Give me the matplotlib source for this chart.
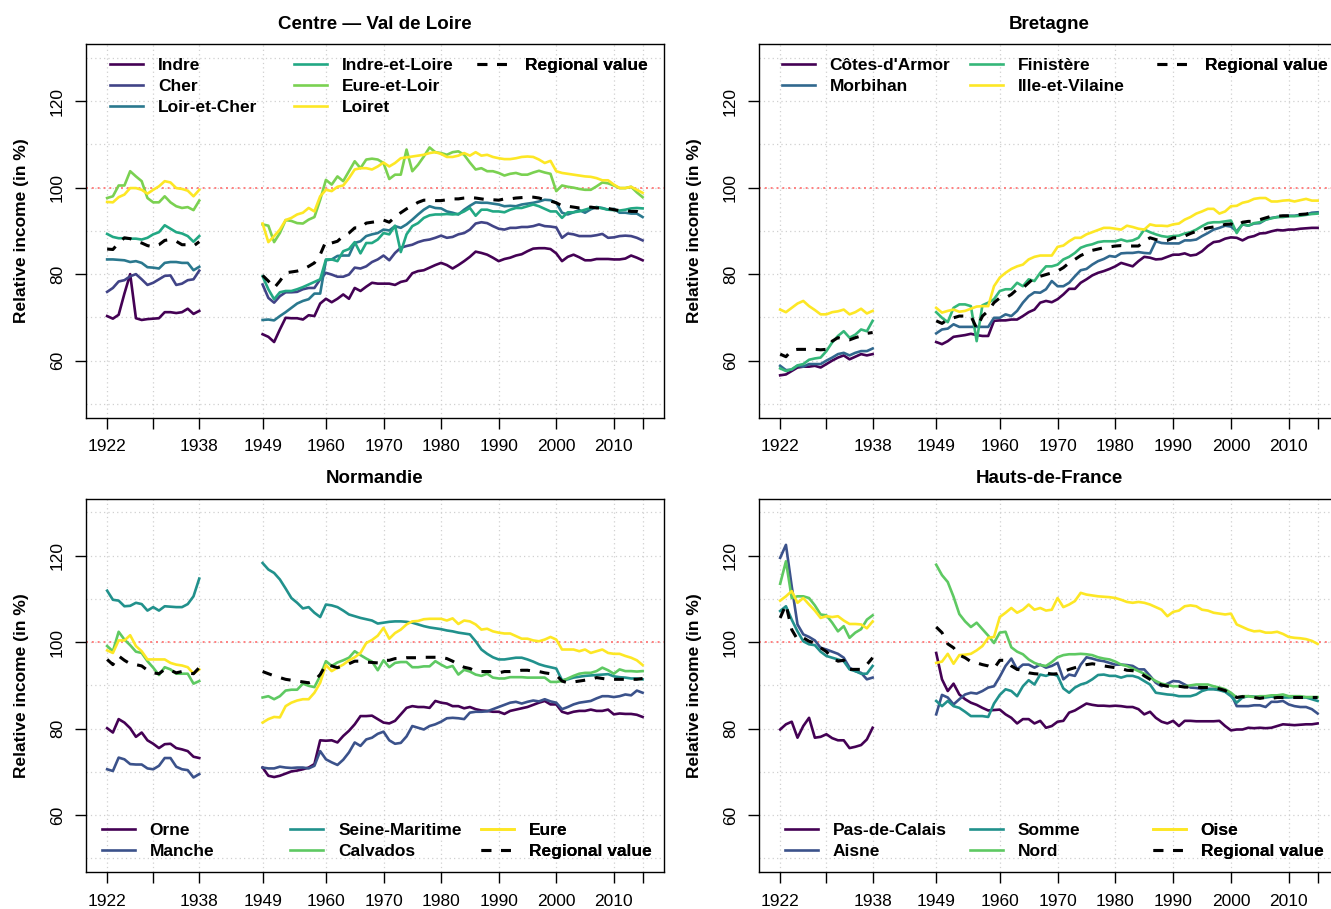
import numpy as np
import matplotlib
matplotlib.use('Agg')
import matplotlib.pyplot as plt

plt.rcParams['font.family'] = ['Liberation Sans', 'DejaVu Sans']

years_pre = list(range(1922, 1939))
years_post = list(range(1949, 2016))

# ---- Centre - Val de Loire ----
indre_pre = [70.3, 69.7, 70.6, 75.5, 80.0, 69.8, 69.4, 69.6, 69.7, 69.8, 71.2, 71.2, 71.0, 71.2, 72.0, 70.8, 71.5]
indre_post = [66.1, 65.5, 64.3, 67.2, 69.9, 69.8, 69.8, 69.5, 70.5, 70.3,
              73.2, 74.3, 73.5, 74.3, 75.3, 74.3, 76.8, 76.1, 77.1, 78.0,
              77.8, 77.8, 77.8, 77.5, 78.2, 78.5, 80.2, 80.7, 80.9, 81.5,
              82.1, 82.6, 82.1, 81.3, 82.1, 83.0, 84.0, 85.2, 84.9, 84.5,
              83.8, 83.0, 83.5, 83.8, 84.3, 84.6, 85.3, 85.9, 86.0, 86.0,
              85.8, 84.8, 83.0, 84.0, 84.5, 83.9, 83.2, 83.2, 83.5, 83.5,
              83.5, 83.4, 83.4, 83.6, 84.3, 83.8, 83.2]
cher_pre = [75.9, 76.8, 78.3, 78.6, 79.5, 80.0, 78.8, 77.5, 78.0, 78.8, 79.6, 79.7, 77.5, 77.8, 78.6, 78.8, 80.8]
cher_post = [77.6, 74.5, 73.4, 74.9, 75.8, 75.8, 75.9, 76.5, 76.8, 76.8,
             78.8, 80.3, 79.9, 79.4, 79.4, 79.9, 81.5, 81.3, 81.8, 82.8,
             83.4, 84.3, 83.2, 84.9, 86.1, 86.5, 86.8, 87.4, 87.8, 88.0,
             88.4, 88.9, 88.4, 88.6, 89.2, 89.5, 90.3, 91.7, 92.0, 91.8,
             91.1, 90.5, 90.3, 90.7, 90.7, 90.9, 90.9, 91.1, 91.5, 91.1,
             91.0, 90.8, 88.4, 89.4, 89.2, 88.8, 88.8, 88.8, 89.0, 89.3,
             88.4, 88.5, 88.8, 88.9, 88.8, 88.4, 87.8]
loir_pre = [83.4, 83.4, 83.3, 83.2, 82.8, 83.0, 82.6, 81.6, 81.5, 81.3, 82.6, 82.8, 82.8, 82.6, 82.6, 80.9, 81.7]
loir_post = [69.4, 69.5, 69.3, 70.3, 71.2, 72.2, 73.2, 73.8, 74.2, 75.5,
             75.5, 83.2, 83.4, 84.2, 84.3, 84.3, 87.2, 87.6, 88.8, 89.2,
             89.5, 90.3, 90.1, 91.1, 90.7, 91.5, 92.6, 93.8, 94.9, 95.7,
             95.3, 95.2, 94.5, 94.2, 93.8, 94.9, 95.8, 96.6, 96.5, 96.5,
             96.3, 96.1, 95.7, 95.8, 95.7, 96.1, 96.3, 96.5, 96.8, 97.2,
             97.1, 96.5, 94.2, 93.8, 94.3, 94.8, 94.2, 95.0, 95.5, 95.3,
             94.9, 95.1, 94.2, 94.2, 94.0, 94.0, 93.2]
iel_pre = [89.3, 88.6, 88.3, 88.3, 88.2, 88.2, 88.0, 88.4, 89.2, 89.7, 91.3, 90.5, 89.7, 89.4, 88.8, 87.5, 88.8]
iel_post = [79.5, 76.5, 74.2, 75.8, 76.1, 76.1, 76.5, 77.0, 77.6, 78.2,
            78.8, 83.4, 83.4, 83.0, 85.3, 85.8, 87.4, 84.8, 87.2, 87.2,
            88.0, 89.5, 89.2, 91.2, 85.1, 89.2, 91.1, 91.8, 93.0, 93.6,
            93.8, 93.8, 93.9, 93.8, 93.9, 94.5, 95.3, 93.5, 94.9, 94.9,
            94.5, 94.5, 94.3, 94.9, 95.3, 95.3, 95.7, 96.1, 95.7, 95.1,
            94.5, 94.5, 93.0, 94.3, 94.3, 94.5, 94.9, 95.3, 95.5, 95.2,
            94.9, 94.8, 94.7, 94.9, 95.2, 95.3, 95.2]
eel_pre = [97.6, 98.0, 100.5, 100.5, 103.8, 102.6, 101.5, 97.6, 96.6, 96.6, 98.0, 96.6, 95.7, 95.3, 95.5, 94.8, 97.0]
eel_post = [91.5, 91.2, 87.4, 89.5, 92.5, 92.3, 91.8, 91.7, 92.6, 93.2,
            97.2, 101.8, 100.7, 102.6, 101.5, 103.8, 106.1, 104.5, 106.5, 106.7,
            106.5, 105.7, 102.0, 103.0, 103.0, 108.8, 103.8, 105.3, 107.2, 109.3,
            108.2, 108.0, 107.6, 108.2, 108.4, 107.6, 105.8, 104.2, 104.5, 103.8,
            103.8, 103.4, 102.8, 103.2, 103.4, 103.0, 103.0, 103.5, 103.9, 103.5,
            103.2, 99.2, 100.5, 100.2, 100.0, 99.7, 99.5, 99.5, 100.3, 101.2,
            101.0, 100.5, 99.9, 99.9, 100.2, 98.9, 97.8]
loiret_pre = [96.7, 96.6, 97.8, 98.4, 99.9, 99.9, 99.5, 98.6, 99.5, 100.3, 101.5, 101.2, 99.9, 99.7, 99.3, 98.0, 99.5]
loiret_post = [91.7, 87.4, 88.8, 90.3, 92.5, 93.0, 93.8, 94.2, 95.3, 94.5,
               98.0, 99.5, 99.2, 100.2, 100.5, 102.2, 104.2, 104.5, 104.5, 104.2,
               104.9, 105.8, 104.9, 105.7, 106.8, 107.0, 107.2, 107.4, 107.6, 108.0,
               108.2, 107.8, 107.1, 107.1, 107.4, 108.0, 107.4, 108.2, 107.4, 107.6,
               107.1, 106.8, 106.6, 106.6, 106.8, 107.1, 107.2, 107.1, 106.5, 105.7,
               106.2, 103.8, 103.4, 103.2, 103.0, 102.8, 102.6, 102.5, 102.2, 101.7,
               101.7, 100.7, 99.9, 99.9, 100.2, 99.5, 98.8]
reg_centre_pre = [85.8, 85.7, 87.2, 88.4, 88.2, 87.6, 87.2, 86.6, 86.3, 86.8, 87.8, 88.0, 87.6, 86.8, 86.8, 86.5, 87.5]
reg_centre_post = [79.7, 78.4, 76.8, 78.4, 80.3, 80.5, 80.7, 81.1, 81.8, 82.6,
                   84.5, 87.6, 87.2, 87.6, 88.8, 89.5, 90.7, 90.7, 91.8, 92.0,
                   92.2, 92.5, 92.0, 93.2, 94.2, 95.1, 95.8, 96.6, 97.1, 97.1,
                   97.0, 97.0, 97.2, 97.4, 97.4, 97.6, 97.7, 97.6, 97.4, 97.2,
                   97.2, 97.1, 97.4, 97.4, 97.6, 97.7, 97.8, 97.8, 97.6, 97.2,
                   96.9, 96.5, 95.8, 95.7, 95.5, 95.3, 95.3, 95.5, 95.3, 95.3,
                   95.2, 94.9, 94.7, 94.7, 94.5, 94.5, 94.0]

# ---- Bretagne ----
cotes_pre = [56.6, 56.8, 57.6, 58.4, 58.6, 58.6, 58.8, 58.4, 59.2, 60.0, 60.7, 61.2, 60.3, 60.9, 61.5, 61.2, 61.5]
cotes_post = [64.3, 63.8, 64.5, 65.5, 65.7, 65.9, 66.2, 65.9, 65.7, 65.7,
              69.2, 69.3, 69.3, 69.5, 69.5, 70.3, 71.2, 71.8, 73.4, 73.8,
              73.5, 74.2, 75.3, 76.6, 76.6, 78.0, 78.8, 79.7, 80.3, 80.7,
              81.2, 81.8, 82.6, 82.2, 81.8, 83.0, 84.0, 83.8, 83.4, 83.5,
              84.0, 84.5, 84.5, 84.8, 84.3, 84.5, 85.3, 86.5, 87.4, 87.6,
              88.2, 88.5, 88.4, 87.8, 88.5, 88.8, 89.4, 89.5, 89.9, 90.2,
              90.1, 90.3, 90.3, 90.5, 90.6, 90.7, 90.7]
morb_pre = [58.8, 57.8, 57.9, 58.8, 58.6, 59.2, 59.2, 59.2, 60.0, 60.7, 61.5, 61.8, 61.2, 61.8, 62.2, 62.2, 62.8]
morb_post = [66.3, 67.2, 67.4, 68.4, 67.8, 67.8, 67.8, 67.8, 67.8, 67.8,
             69.9, 69.9, 70.7, 70.3, 71.5, 73.4, 74.9, 75.8, 75.7, 76.5,
             78.4, 77.2, 77.2, 78.0, 79.5, 80.9, 81.2, 82.2, 83.0, 83.5,
             84.2, 84.0, 84.8, 84.9, 84.9, 85.1, 84.9, 84.8, 87.6, 87.2,
             87.1, 87.1, 87.1, 87.8, 87.8, 88.0, 88.8, 89.5, 90.3, 90.7,
             91.2, 91.0, 89.9, 91.5, 91.2, 91.7, 91.8, 92.6, 93.0, 93.2,
             93.4, 93.5, 93.5, 93.7, 93.8, 94.2, 94.3]
fin_pre = [58.2, 57.6, 58.0, 58.9, 59.2, 60.2, 60.5, 60.7, 62.2, 64.2, 65.7, 66.8, 65.3, 66.0, 67.2, 66.8, 69.2]
fin_post = [71.2, 69.9, 68.9, 72.2, 73.0, 73.0, 72.6, 64.5, 72.8, 73.4,
            74.2, 76.1, 76.5, 76.5, 78.0, 77.2, 78.8, 78.4, 80.3, 81.8,
            81.8, 82.2, 83.4, 84.0, 84.9, 86.1, 86.6, 86.9, 87.4, 87.6,
            87.6, 87.6, 88.0, 87.6, 87.8, 88.4, 90.3, 89.7, 89.2, 88.8,
            88.6, 88.8, 88.9, 89.4, 89.7, 90.3, 91.1, 91.8, 92.0, 92.0,
            92.2, 92.4, 89.5, 91.6, 91.2, 91.8, 92.0, 92.6, 92.9, 93.2,
            93.2, 93.4, 93.4, 93.5, 93.7, 93.9, 94.0]
ille_pre = [71.8, 71.2, 72.2, 73.2, 73.8, 72.6, 71.7, 70.7, 70.7, 71.2, 71.4, 71.8, 70.7, 71.2, 72.0, 70.9, 71.5]
ille_post = [72.2, 71.1, 71.5, 71.8, 71.3, 71.5, 72.0, 72.5, 72.6, 72.6,
             77.2, 79.2, 80.3, 81.2, 81.8, 82.2, 83.4, 84.0, 84.3, 84.3,
             84.3, 86.3, 86.6, 87.6, 88.4, 88.4, 89.2, 89.7, 90.2, 90.7,
             90.7, 90.5, 90.3, 91.2, 90.9, 90.5, 90.3, 91.5, 91.2, 91.2,
             91.1, 91.5, 91.7, 92.6, 93.2, 94.0, 94.5, 95.1, 95.1, 94.0,
             94.5, 95.7, 95.8, 96.5, 96.8, 97.4, 97.6, 97.6, 96.8, 96.8,
             97.0, 97.1, 96.8, 97.1, 97.4, 97.0, 97.0]
reg_bret_pre = [61.5, 60.9, 62.4, 62.6, 62.6, 62.6, 62.6, 62.5, 62.6, 64.5, 65.3, 64.9, 64.8, 65.3, 65.7, 66.3, 66.5]
reg_bret_post = [69.2, 68.6, 69.5, 69.9, 70.3, 70.3, 70.3, 67.5, 70.3, 71.5,
                 73.4, 74.5, 74.5, 75.3, 76.5, 76.8, 78.0, 79.2, 79.5, 79.9,
                 80.3, 80.7, 81.5, 82.6, 83.4, 84.3, 84.9, 85.5, 85.8, 86.1,
                 86.3, 86.5, 86.6, 86.5, 86.5, 86.5, 87.6, 88.4, 88.0, 87.6,
                 87.8, 88.4, 88.4, 88.8, 89.4, 89.9, 90.3, 90.7, 90.9, 91.1,
                 91.5, 91.6, 91.1, 92.0, 92.2, 92.2, 92.6, 93.0, 93.4, 93.4,
                 93.5, 93.5, 93.7, 93.8, 93.9, 94.2, 94.2]

# ---- Normandie ----
orne_pre = [80.1, 79.1, 82.2, 81.4, 80.1, 78.1, 79.1, 77.3, 76.5, 75.5, 76.4, 76.5, 75.5, 75.2, 74.8, 73.5, 73.2]
orne_post = [71.0, 69.1, 68.8, 69.1, 69.6, 70.1, 70.3, 70.6, 71.0, 71.8,
             77.3, 77.2, 77.3, 76.8, 78.3, 79.5, 81.0, 82.9, 82.9, 83.0,
             82.2, 81.4, 81.2, 81.8, 83.3, 84.8, 85.2, 85.0, 85.0, 84.8,
             86.4, 86.0, 85.8, 85.2, 85.2, 84.7, 85.0, 84.5, 84.2, 84.1,
             83.9, 83.9, 83.4, 84.1, 84.4, 84.7, 85.0, 85.5, 86.0, 86.4,
             85.6, 85.6, 83.9, 83.5, 83.9, 84.1, 84.1, 84.4, 84.1, 84.1,
             84.4, 83.3, 83.5, 83.4, 83.4, 83.2, 82.7]
manche_pre = [70.6, 70.2, 73.3, 72.9, 71.8, 71.7, 71.7, 70.8, 70.6, 71.4, 73.2, 73.2, 71.2, 70.6, 70.4, 68.7, 69.5]
manche_post = [71.0, 70.8, 70.8, 71.2, 71.0, 70.9, 71.0, 71.0, 70.8, 71.4,
               74.8, 72.9, 72.2, 71.6, 72.8, 74.5, 76.8, 76.0, 77.5, 77.9,
               78.8, 79.3, 77.3, 76.5, 76.7, 78.2, 80.6, 80.2, 79.8, 80.6,
               81.0, 81.6, 82.4, 82.5, 82.4, 82.2, 83.7, 83.9, 83.9, 84.0,
               84.5, 85.0, 85.5, 86.0, 86.2, 85.8, 86.2, 86.5, 86.3, 86.8,
               86.3, 86.0, 84.5, 85.0, 85.6, 86.0, 86.2, 86.4, 87.0, 87.5,
               87.5, 87.3, 87.5, 87.9, 87.7, 88.8, 88.3]
seine_pre = [111.9, 109.8, 109.6, 108.3, 108.4, 109.1, 108.8, 107.3, 108.1, 107.3, 108.3, 108.2, 108.1, 108.1, 108.8, 110.6, 114.7]
seine_post = [118.3, 116.8, 116.0, 114.5, 112.4, 110.2, 109.1, 107.8, 108.1, 106.8,
              105.8, 108.7, 108.5, 108.1, 107.3, 106.4, 106.0, 105.6, 105.3, 105.0,
              104.3, 104.5, 104.7, 104.8, 104.8, 104.7, 104.5, 104.1, 103.7, 103.4,
              103.2, 103.0, 102.7, 102.5, 102.2, 102.0, 101.8, 100.2, 98.3, 97.3,
              96.5, 96.0, 96.0, 96.2, 96.4, 96.4, 96.0, 95.5, 94.9, 94.5,
              94.2, 93.9, 91.2, 91.4, 91.8, 92.0, 92.2, 92.3, 92.4, 92.5,
              92.6, 92.1, 91.9, 91.8, 91.6, 91.6, 91.4]
calv_pre = [99.1, 97.9, 102.4, 100.6, 99.3, 97.8, 97.5, 95.6, 94.1, 92.4, 94.2, 93.7, 92.7, 92.7, 92.7, 90.4, 91.0]
calv_post = [87.2, 87.5, 86.8, 87.5, 88.8, 89.0, 89.0, 90.4, 89.9, 89.6,
             92.2, 95.6, 94.5, 95.3, 95.8, 96.4, 97.9, 97.0, 96.2, 95.5,
             93.5, 95.8, 94.2, 95.2, 95.4, 95.4, 94.2, 94.2, 94.4, 94.4,
             95.6, 94.8, 94.1, 94.5, 92.5, 93.6, 93.2, 92.5, 92.2, 92.7,
             91.8, 91.6, 91.6, 91.9, 91.9, 91.9, 91.8, 91.8, 91.8, 91.8,
             90.8, 90.8, 91.0, 91.6, 92.2, 92.7, 92.9, 92.9, 93.3, 94.1,
             93.5, 92.7, 93.7, 93.3, 93.3, 93.2, 93.3]
eure_pre = [98.1, 97.5, 100.4, 100.4, 101.6, 99.1, 97.9, 96.0, 96.0, 96.0, 96.0, 95.2, 94.8, 94.6, 94.2, 92.7, 93.7]
eure_post = [81.4, 82.2, 82.7, 82.6, 85.2, 86.0, 86.5, 86.8, 86.8, 88.3,
             90.6, 94.7, 93.3, 94.1, 94.8, 95.8, 96.5, 97.5, 99.8, 100.5,
             101.5, 103.3, 100.8, 102.1, 102.9, 104.1, 104.8, 104.9, 105.3, 105.4,
             105.4, 105.4, 105.0, 105.5, 104.2, 105.0, 104.8, 104.1, 102.9, 103.1,
             102.5, 102.2, 102.0, 102.0, 101.4, 100.8, 100.8, 100.4, 100.2, 100.6,
             101.2, 100.6, 98.3, 98.3, 98.3, 97.9, 98.3, 97.5, 97.9, 98.3,
             97.5, 97.3, 97.3, 96.8, 96.4, 95.8, 94.7]
reg_norm_pre = [96.0, 94.8, 96.8, 95.8, 95.0, 94.8, 94.5, 93.5, 92.9, 92.7, 93.7, 93.5, 92.9, 93.2, 92.9, 92.7, 94.1]
reg_norm_post = [93.2, 92.7, 92.2, 91.8, 91.4, 91.2, 91.0, 90.8, 90.6, 91.1,
                 92.5, 94.8, 94.5, 94.1, 94.5, 95.0, 95.6, 95.6, 95.4, 95.3,
                 95.2, 95.8, 95.8, 96.2, 96.2, 96.4, 96.4, 96.4, 96.5, 96.5,
                 96.5, 96.5, 96.2, 95.6, 94.8, 94.2, 93.9, 93.3, 93.2, 93.2,
                 93.2, 92.9, 93.2, 93.2, 93.3, 93.5, 93.5, 93.3, 93.2, 92.9,
                 92.7, 92.4, 91.0, 90.6, 90.8, 91.0, 91.2, 91.4, 91.8, 91.6,
                 91.4, 91.4, 91.4, 91.4, 91.4, 91.4, 91.6]

# ---- Hauts-de-France ----
pdc_pre = [79.8, 81.0, 81.6, 77.9, 80.6, 82.5, 77.9, 78.1, 78.7, 77.8, 77.3, 77.3, 75.5, 75.8, 76.2, 77.5, 80.2]
pdc_post = [97.5, 91.4, 88.7, 90.4, 87.9, 86.8, 86.0, 85.5, 84.8, 84.2,
            84.3, 84.4, 83.3, 82.5, 81.2, 82.2, 82.2, 81.2, 81.8, 80.2,
            80.6, 81.6, 81.8, 83.7, 84.2, 85.0, 85.8, 85.5, 85.3, 85.3,
            85.2, 85.3, 85.2, 85.0, 85.0, 84.5, 83.3, 83.9, 82.5, 81.6,
            81.2, 81.8, 80.6, 81.8, 81.8, 81.7, 81.7, 81.7, 81.7, 81.8,
            80.6, 79.6, 79.8, 79.8, 80.2, 80.1, 80.2, 80.1, 80.2, 80.6,
            81.0, 80.9, 80.8, 80.9, 81.0, 81.0, 81.2]
aisne_pre = [119.5, 122.5, 112.9, 104.1, 101.8, 101.2, 100.4, 98.7, 98.3, 97.8, 97.3, 96.4, 94.1, 93.3, 92.9, 91.4, 91.8]
aisne_post = [83.3, 87.8, 87.2, 85.6, 86.8, 87.9, 88.3, 88.1, 88.7, 89.5,
              89.8, 92.0, 94.5, 96.2, 93.7, 94.8, 94.8, 94.1, 94.8, 94.1,
              94.5, 95.2, 91.4, 92.5, 92.2, 94.8, 96.5, 96.2, 95.8, 95.6,
              95.2, 94.8, 94.8, 94.7, 94.5, 93.7, 93.7, 92.2, 90.6, 89.8,
              90.4, 91.0, 90.9, 90.2, 89.5, 89.4, 89.2, 89.2, 89.2, 89.0,
              88.7, 88.1, 85.2, 85.2, 85.2, 85.4, 85.4, 85.0, 86.2, 86.2,
              86.4, 85.6, 85.2, 85.0, 85.0, 84.5, 83.5]
somme_pre = [107.2, 108.3, 105.2, 102.5, 100.2, 99.5, 99.3, 97.8, 96.8, 96.4, 96.0, 95.6, 93.7, 93.3, 92.7, 92.7, 94.5]
somme_post = [86.4, 85.2, 86.4, 85.2, 84.8, 83.9, 82.9, 82.9, 82.9, 82.7,
              85.8, 87.8, 89.1, 88.7, 87.5, 89.8, 91.2, 90.2, 92.5, 92.2,
              92.7, 92.2, 89.3, 88.3, 89.5, 90.2, 90.6, 91.4, 92.4, 92.5,
              92.2, 92.2, 91.8, 92.2, 92.2, 91.8, 91.0, 90.2, 88.3, 88.1,
              87.9, 87.8, 87.5, 87.5, 87.5, 87.9, 88.7, 89.1, 89.1, 88.9,
              88.5, 87.5, 86.0, 87.2, 87.5, 87.4, 87.3, 87.2, 87.4, 87.2,
              87.2, 87.2, 87.3, 87.2, 87.2, 86.8, 86.4]
nord_pre = [113.5, 118.7, 110.2, 110.6, 110.6, 110.2, 108.5, 106.4, 106.2, 104.5, 102.5, 103.7, 101.0, 102.2, 103.0, 105.2, 106.2]
nord_post = [117.9, 115.5, 113.9, 110.5, 106.5, 104.8, 103.5, 104.5, 103.0, 101.5,
             99.8, 102.2, 102.4, 98.8, 97.8, 97.2, 96.0, 95.2, 94.7, 94.5,
             95.4, 96.5, 97.0, 97.2, 97.2, 97.3, 97.2, 97.0, 96.5, 96.2,
             96.0, 95.5, 94.8, 94.5, 93.9, 93.3, 92.7, 91.8, 91.0, 90.4,
             90.1, 89.8, 89.8, 89.8, 90.0, 90.2, 90.2, 90.2, 89.8, 89.5,
             89.1, 88.3, 87.2, 87.5, 87.5, 87.3, 87.5, 87.5, 87.7, 87.7,
             87.9, 87.5, 87.5, 87.5, 87.3, 87.3, 87.3]
oise_pre = [109.6, 110.6, 111.8, 109.1, 110.2, 108.7, 107.3, 105.6, 106.0, 105.8, 106.0, 105.0, 104.2, 104.2, 104.1, 103.2, 104.8]
oise_post = [95.2, 95.5, 97.3, 95.0, 97.0, 97.1, 97.3, 98.1, 99.1, 101.0,
             101.2, 105.8, 106.8, 107.9, 106.8, 107.5, 108.7, 107.5, 107.9, 107.3,
             107.5, 110.2, 108.1, 108.7, 109.5, 111.4, 111.0, 110.8, 110.6, 110.5,
             110.4, 110.2, 109.8, 109.3, 109.1, 109.3, 109.1, 108.7, 108.1, 107.5,
             106.0, 107.0, 107.3, 108.3, 108.5, 108.3, 107.5, 107.3, 106.8, 106.6,
             106.4, 106.6, 104.1, 103.5, 102.9, 102.5, 102.6, 102.2, 102.2, 102.4,
             101.9, 101.2, 101.0, 100.9, 100.7, 100.3, 99.6]
reg_hdf_pre = [105.6, 108.7, 102.9, 100.6, 101.0, 100.2, 99.8, 98.7, 97.8, 96.4, 95.6, 95.8, 93.7, 93.7, 93.7, 94.8, 96.4]
reg_hdf_post = [103.5, 102.2, 99.6, 98.7, 97.0, 96.4, 95.5, 95.2, 94.8, 94.5,
                93.9, 95.8, 95.8, 94.5, 93.7, 93.5, 92.9, 92.7, 92.6, 92.9,
                92.6, 92.7, 93.2, 93.7, 94.1, 94.5, 94.8, 95.0, 94.8, 94.5,
                94.3, 94.1, 93.9, 93.5, 93.4, 93.2, 92.2, 91.4, 90.6, 90.1,
                89.8, 89.8, 89.8, 89.6, 89.6, 89.6, 89.5, 89.5, 89.4, 89.2,
                88.8, 88.1, 87.2, 87.4, 87.2, 87.2, 87.0, 87.2, 87.0, 87.2,
                87.2, 87.2, 87.2, 87.2, 87.2, 87.2, 87.2]

xticks = [1922, 1930, 1938, 1949, 1960, 1970, 1980, 1990, 2000, 2010, 2015]
xticklabels = ['1922', '', '1938', '1949', '1960', '1970', '1980', '1990', '2000', '2010', '']

panels = [
    dict(title='Centre \u2014 Val de Loire',
         series=[('Indre', indre_pre, indre_post), ('Cher', cher_pre, cher_post),
                 ('Loir-et-Cher', loir_pre, loir_post), ('Indre-et-Loire', iel_pre, iel_post),
                 ('Eure-et-Loir', eel_pre, eel_post), ('Loiret', loiret_pre, loiret_post)],
         regional=(reg_centre_pre, reg_centre_post),
         pos=[0.0644, 0.5405, 0.4345, 0.4110], nrows=3, top=True,
         cols=[24.5, 208.5, 391.5]),
    dict(title='Bretagne',
         series=[("C\u00f4tes-d'Armor", cotes_pre, cotes_post), ('Morbihan', morb_pre, morb_post),
                 ('Finist\u00e8re', fin_pre, fin_post), ('Ille-et-Vilaine', ille_pre, ille_post)],
         regional=(reg_bret_pre, reg_bret_post),
         pos=[0.5700, 0.5405, 0.4361, 0.4110], nrows=2, top=True,
         cols=[23, 211, 398]),
    dict(title='Normandie',
         series=[('Orne', orne_pre, orne_post), ('Manche', manche_pre, manche_post),
                 ('Seine-Maritime', seine_pre, seine_post), ('Calvados', calv_pre, calv_post),
                 ('Eure', eure_pre, eure_post)],
         regional=(reg_norm_pre, reg_norm_post),
         pos=[0.0644, 0.0405, 0.4345, 0.4110], nrows=2, top=False,
         cols=[16, 204.5, 395]),
    dict(title='Hauts-de-France',
         series=[('Pas-de-Calais', pdc_pre, pdc_post), ('Aisne', aisne_pre, aisne_post),
                 ('Somme', somme_pre, somme_post), ('Nord', nord_pre, nord_post),
                 ('Oise', oise_pre, oise_post)],
         regional=(reg_hdf_pre, reg_hdf_post),
         pos=[0.5700, 0.0405, 0.4361, 0.4110], nrows=2, top=False,
         cols=[26, 211, 394]),
]

fig = plt.figure(figsize=(13.31, 9.09), dpi=100)
fs = 12.5
dash = (0, (3.2, 3.2))

for p in panels:
    ax = fig.add_axes(p['pos'])
    # background grid
    for yv in range(50, 131, 10):
        ax.axhline(yv, color='#d0d0d0', ls=(0, (1, 2.5)), lw=0.9, zorder=0)
    for xv in xticks:
        ax.axvline(xv, color='#d0d0d0', ls=(0, (1, 2.5)), lw=0.9, zorder=0)
    ax.axhline(100, color='#ff8080', ls=(0, (1, 2)), lw=1.4, zorder=1)

    colors = plt.cm.viridis(np.linspace(0, 1, len(p['series'])))
    handles = []
    for (name, pre, post), c in zip(p['series'], colors):
        ln, = ax.plot(years_pre, pre, color=c, lw=1.9, label=name, zorder=2)
        ax.plot(years_post, post, color=c, lw=1.9, zorder=2)
        handles.append(ln)
    rpre, rpost = p['regional']
    rl, = ax.plot(years_pre, rpre, color='black', lw=2.2, ls=dash,
                  label='Regional value', zorder=3)
    ax.plot(years_post, rpost, color='black', lw=2.2, ls=dash, zorder=3)
    handles.append(rl)

    ax.set_xlim(1918.28, 2018.72)
    ax.set_ylim(46.8, 133.2)
    ax.set_xticks(xticks)
    ax.set_xticklabels(xticklabels)
    ax.set_yticks([60, 80, 100, 120])
    ax.set_yticklabels(['60', '80', '100', '120'], rotation=90, va='center')
    ax.tick_params(axis='both', direction='out', length=8, width=1, labelsize=fs, color='black')
    ax.tick_params(axis='x', pad=7.5)
    ax.tick_params(axis='y', pad=7)
    for s in ax.spines.values():
        s.set_linewidth(1)
        s.set_color('black')
    ax.set_ylabel('Relative income (in %)', fontsize=fs, fontweight='bold')
    ax.yaxis.set_label_coords(-0.098, 0.5)
    ax.set_title(p['title'], fontsize=13.5, fontweight='bold', pad=11)

    # legend, column by column
    nr = p['nrows']
    width_px = p['pos'][2] * 1331
    height_px = p['pos'][3] * 909
    for ci, xoff in enumerate(p['cols']):
        chunk = handles[ci * nr:(ci + 1) * nr]
        if not chunk:
            continue
        if p['top']:
            loc, yanch = 'upper left', 1 - 14.0 / height_px
        else:
            loc, yanch = 'lower left', 13.0 / height_px
        leg = ax.legend(handles=chunk, loc=loc, bbox_to_anchor=(xoff / width_px, yanch),
                        frameon=False, borderpad=0, borderaxespad=0,
                        handlelength=1.9, handletextpad=0.86, labelspacing=0.33,
                        prop=dict(weight='bold', size=fs))
        ax.add_artist(leg)

fig.savefig('out.png', dpi=100)
